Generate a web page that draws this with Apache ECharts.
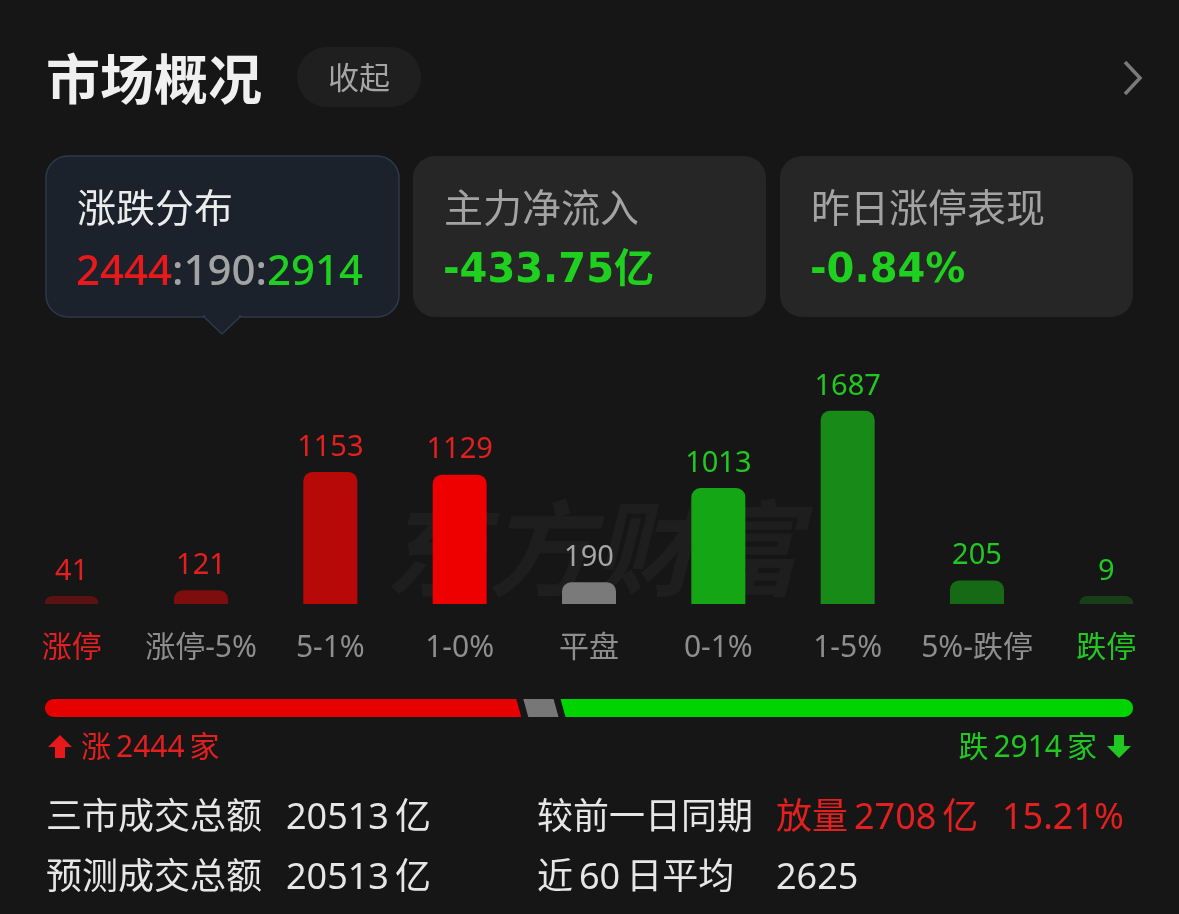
<!DOCTYPE html>
<html><head><meta charset="utf-8">
<script src="https://cdn.jsdelivr.net/npm/echarts@6/dist/echarts.min.js"></script>
<style>html,body{margin:0;padding:0;background:#161616;}#c{width:1179px;height:914px;}</style>
</head><body><div id="c"></div>
<script>
// ---- data ----
const categories = ['涨停', '涨停-5%', '5-1%', '1-0%', '平盘', '0-1%', '1-5%', '5%-跌停', '跌停'];
const values = [41, 121, 1153, 1129, 190, 1013, 1687, 205, 9];
const barColors = ['#5a1212', '#7e0d0d', '#b80909', '#ee0000', '#7a7a7a', '#14a614', '#178a17', '#166a16', '#193f19'];
const valueLabelColors = ['#e3201f', '#e3201f', '#e3201f', '#e3201f', '#a6a6a6', '#22c822', '#22c822', '#22c822', '#22c822'];
const categoryLabelColors = ['#e3201f', '#8e8e8e', '#8e8e8e', '#8e8e8e', '#8e8e8e', '#8e8e8e', '#8e8e8e', '#8e8e8e', '#22c822'];
const breadthCounts = [2444, 190, 2914];
const breadthColors = ['#e60000', '#777777', '#00d400'];
const cardTitles = ['涨跌分布', '主力净流入', '昨日涨停表现'];
const netInflow = '-433.75亿';
const yesterdayLimitUp = '-0.84%';
const turnoverRows = [
  ['三市成交总额', '20513\u2009亿'],
  ['预测成交总额', '20513\u2009亿']
];
const compareLabel = '较前一日同期';
const compareValue = '放量\u20092708\u2009亿';
const comparePct = '15.21%';
const avgLabel = '近\u200960\u2009日平均';
const avgValue = '2625';

const CJK = '"Noto Sans CJK SC", "Noto Sans", sans-serif';
const NUM = '"Noto Sans", "Noto Sans CJK SC", sans-serif';
const WIDE = '"DejaVu Sans", "Noto Sans CJK SC", sans-serif';

const total = breadthCounts.reduce((a, b) => a + b, 0);
let acc = 0;
const breadthData = breadthCounts.map((v, i) => { const d = [acc, acc + v, i]; acc += v; return d; });

const chart = echarts.init(document.getElementById('c'), null, { renderer: 'canvas' });

function renderBreadth(params, api) {
  const i = api.value(2);
  const s = api.value(0), e = api.value(1);
  const top = api.coord([s, 1])[1], bot = api.coord([s, 0])[1];
  const xs = api.coord([s, 0])[0], xe = api.coord([e, 0])[0];
  const h = bot - top, g = 7, sl = 5, r = h / 2;
  const n = breadthCounts.length;
  const pts = [];
  if (i === n - 1) {
    for (let k = 0; k <= 16; k++) {
      const t = -Math.PI / 2 + Math.PI * k / 16;
      pts.push([xe - r + r * Math.cos(t), top + r + r * Math.sin(t)]);
    }
  } else {
    pts.push([xe - sl / 2 - g / 2 - 2, top]);
    pts.push([xe + sl / 2 - g / 2 - 2, bot]);
  }
  if (i === 0) {
    for (let k = 0; k <= 16; k++) {
      const t = Math.PI / 2 + Math.PI * k / 16;
      pts.push([xs + r + r * Math.cos(t), top + r + r * Math.sin(t)]);
    }
  } else {
    pts.push([xs + sl / 2 + g / 2 - 2, bot]);
    pts.push([xs - sl / 2 + g / 2 - 2, top]);
  }
  return { type: 'polygon', shape: { points: pts }, style: { fill: breadthColors[i] } };
}

const graphics = [
  { type: 'text', z: 0, style: { text: '东方财富', x: 592, y: 548, align: 'center', verticalAlign: 'middle',
      font: 'italic bold 104px ' + CJK, fill: 'rgba(255,255,255,0.035)' } },
  { type: 'text', style: { text: '市场概况', x: 46, y: 79, verticalAlign: 'middle', font: 'bold 54px ' + CJK, fill: '#f0f0f0' } },
  { type: 'rect', shape: { x: 297, y: 47, width: 124, height: 60, r: 30 }, style: { fill: '#1f1f1f' } },
  { type: 'text', style: { text: '收起', x: 359, y: 77, align: 'center', verticalAlign: 'middle', font: '31px ' + CJK, fill: '#a5a5a5' } },
  { type: 'polyline', shape: { points: [[1125, 62], [1140, 78], [1125, 94]] }, style: { stroke: '#7a7a7a', lineWidth: 3.5, fill: null } },
  { type: 'rect', shape: { x: 46, y: 156, width: 353, height: 161, r: 22 }, style: { fill: '#1b222c', stroke: '#2c3a4b', lineWidth: 1.5 } },
  { type: 'polygon', shape: { points: [[203, 316], [222, 334], [241, 316]] }, style: { fill: '#1b222c', stroke: '#2c3a4b', lineWidth: 1.5, lineJoin: 'round' } },
  { type: 'rect', shape: { x: 205, y: 313, width: 34, height: 4 }, style: { fill: '#1b222c' } },
  { type: 'text', style: { text: cardTitles[0], x: 77, y: 207, verticalAlign: 'middle', font: '39px ' + CJK, fill: '#ececec' } },
  { type: 'text', style: { text: '{r|' + breadthCounts[0] + '}{g|:' + breadthCounts[1] + ':}{gr|' + breadthCounts[2] + '}', x: 76, y: 273, verticalAlign: 'middle',
      rich: { r: { font: '500 42px ' + NUM, fill: '#e8191b' }, g: { font: '500 42px ' + NUM, fill: '#a3a3a3' }, gr: { font: '500 42px ' + NUM, fill: '#1fd01f' } } } },
  { type: 'rect', shape: { x: 413, y: 156, width: 353, height: 161, r: 22 }, style: { fill: '#262626' } },
  { type: 'text', style: { text: cardTitles[1], x: 444, y: 207, verticalAlign: 'middle', font: '39px ' + CJK, fill: '#a3a3a3' } },
  { type: 'text', style: { text: netInflow, x: 443, y: 272, verticalAlign: 'middle', font: 'bold 40px ' + WIDE, fill: '#1fd01f' } },
  { type: 'rect', shape: { x: 780, y: 156, width: 353, height: 161, r: 22 }, style: { fill: '#262626' } },
  { type: 'text', style: { text: cardTitles[2], x: 811, y: 207, verticalAlign: 'middle', font: '39px ' + CJK, fill: '#a3a3a3' } },
  { type: 'text', style: { text: yesterdayLimitUp, x: 810, y: 272, verticalAlign: 'middle', font: 'bold 40px ' + WIDE, fill: '#1fd01f' } },
  { type: 'polygon', shape: { points: [[60, 735], [72, 747], [65, 747], [65, 758], [55, 758], [55, 747], [48, 747]] }, style: { fill: '#e8191b' } },
  { type: 'text', style: { text: '涨\u2009' + breadthCounts[0] + '\u2009家', x: 81, y: 748, verticalAlign: 'middle', font: '30px ' + NUM, fill: '#e3201f' } },
  { type: 'polygon', shape: { points: [[1119, 758], [1131, 746], [1124, 746], [1124, 735], [1114, 735], [1114, 746], [1107, 746]] }, style: { fill: '#22c822' } },
  { type: 'text', style: { text: '跌\u2009' + breadthCounts[2] + '\u2009家', x: 1097, y: 748, align: 'right', verticalAlign: 'middle', font: '30px ' + NUM, fill: '#22c822' } },
  { type: 'text', style: { text: turnoverRows[0][0], x: 46, y: 819, verticalAlign: 'middle', font: '36px ' + NUM, fill: '#e6e6e6' } },
  { type: 'text', style: { text: turnoverRows[0][1], x: 286, y: 819, verticalAlign: 'middle', font: '36px ' + NUM, fill: '#e6e6e6' } },
  { type: 'text', style: { text: turnoverRows[1][0], x: 46, y: 879, verticalAlign: 'middle', font: '36px ' + NUM, fill: '#e6e6e6' } },
  { type: 'text', style: { text: turnoverRows[1][1], x: 286, y: 879, verticalAlign: 'middle', font: '36px ' + NUM, fill: '#e6e6e6' } },
  { type: 'text', style: { text: compareLabel, x: 537, y: 819, verticalAlign: 'middle', font: '36px ' + NUM, fill: '#e6e6e6' } },
  { type: 'text', style: { text: compareValue, x: 776, y: 819, verticalAlign: 'middle', font: '36px ' + NUM, fill: '#e3201f' } },
  { type: 'text', style: { text: comparePct, x: 1002, y: 819, verticalAlign: 'middle', font: '36px ' + NUM, fill: '#e3201f' } },
  { type: 'text', style: { text: avgLabel, x: 537, y: 879, verticalAlign: 'middle', font: '36px ' + NUM, fill: '#e6e6e6' } },
  { type: 'text', style: { text: avgValue, x: 776, y: 879, verticalAlign: 'middle', font: '36px ' + NUM, fill: '#e6e6e6' } }
];

chart.setOption({
  backgroundColor: '#161616',
  animation: false,
  grid: [
    { left: 7, right: 8, top: 375, bottom: 310 },
    { left: 45, right: 46, top: 699, height: 18 }
  ],
  xAxis: [
    { type: 'category', gridIndex: 0, data: categories,
      axisLine: { show: false }, axisTick: { show: false },
      axisLabel: { margin: 29, fontSize: 30, fontFamily: NUM, color: (v, i) => categoryLabelColors[i], interval: 0 } },
    { type: 'value', gridIndex: 1, min: 0, max: total, show: false }
  ],
  yAxis: [
    { type: 'value', gridIndex: 0, min: 0, max: 2000, show: false, splitLine: { show: false } },
    { type: 'value', gridIndex: 1, min: 0, max: 1, show: false, splitLine: { show: false } }
  ],
  graphic: graphics,
  series: [
    { type: 'bar', xAxisIndex: 0, yAxisIndex: 0, barWidth: 54, barMinHeight: 8, z: 3,
      itemStyle: { borderRadius: [9, 9, 0, 0] },
      label: { show: true, position: 'top', distance: 10, fontSize: 29, fontFamily: NUM },
      data: values.map((v, i) => ({ value: v, itemStyle: { color: barColors[i] }, label: { color: valueLabelColors[i] } })) },
    { type: 'custom', xAxisIndex: 1, yAxisIndex: 1, renderItem: renderBreadth, encode: { x: [0, 1] }, data: breadthData, z: 3 }
  ]
});
</script></body></html>
